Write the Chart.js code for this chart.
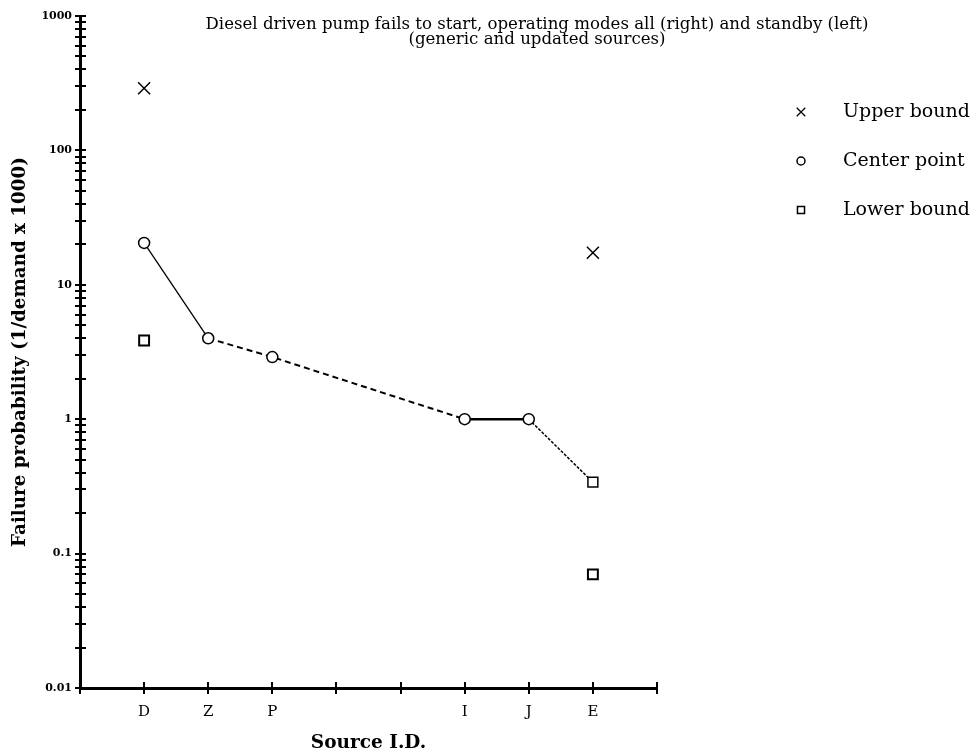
<!DOCTYPE html>
<html>
<head>
<meta charset="utf-8">
<script src="https://cdn.jsdelivr.net/npm/chart.js@4.4.0/dist/chart.umd.min.js"></script>
<style>
  body { margin: 0; background: #fff; }
  canvas { display: block; }
</style>
</head>
<body>
<canvas id="myChart" width="973" height="755"></canvas>
<script>
// x positions 0..9, only some of them carry a source label
const xTickLabels = ['', 'D', 'Z', 'P', '', '', 'I', 'J', 'E', ''];
const yTickLabels = ['0.01', '0.1', '1', '10', '100', '1000'];

const centerPos = [1, 2, 3, 6, 7, 8];
const centerValues = [20.5, 4, 2.9, 1, 1, 0.34];

const upperPos = [1, 8];
const upperValues = [290, 17.3];

const lowerPos = [1, 8];
const lowerValues = [3.85, 0.07];

const seriesNames = ['Upper bound', 'Center point', 'Lower bound'];

const titleLines = [
  'Diesel driven pump fails to start, operating modes all (right) and standby (left)',
  '(generic and updated sources)'
];

function toPoints(xs, ys) {
  return xs.map((x, i) => ({ x: x, y: ys[i] }));
}

Chart.defaults.font.family = 'DejaVu Serif';
Chart.defaults.color = '#000';

// segment styles of the center line: solid, dashed, dashed, solid, dotted
const segDash = [[], [6, 4], [6, 4], [], [3, 1.5]];
const segWidth = [1.3, 2, 2, 2.5, 1.5];

// tick marks that cross the axis lines
const crossTicks = {
  id: 'crossTicks',
  afterDraw(chart) {
    const ctx = chart.ctx;
    const xs = chart.scales.x, ys = chart.scales.y;
    const area = chart.chartArea;
    ctx.save();
    ctx.strokeStyle = '#000';
    ctx.lineWidth = 2;
    ys.ticks.forEach(t => {
      const py = Math.round(ys.getPixelForValue(t.value));
      ctx.beginPath();
      ctx.moveTo(area.left - 5, py);
      ctx.lineTo(area.left + 6, py);
      ctx.stroke();
    });
    xs.ticks.forEach(t => {
      const px = Math.round(xs.getPixelForValue(t.value));
      ctx.beginPath();
      ctx.moveTo(px, area.bottom - 6);
      ctx.lineTo(px, area.bottom + 6);
      ctx.stroke();
    });
    ctx.restore();
  }
};

// title and marker legend drawn at the places used in the original figure
const titleAndKey = {
  id: 'titleAndKey',
  afterDraw(chart) {
    const ctx = chart.ctx;
    ctx.save();
    ctx.fillStyle = '#000';
    ctx.textAlign = 'center';
    ctx.textBaseline = 'middle';
    ctx.font = '16.6px "DejaVu Serif"';
    ctx.fillText(titleLines[0], 537, 25);
    ctx.fillText(titleLines[1], 537, 40);

    const rows = [112, 161, 210];
    const keyStyles = [
      { pointStyle: 'crossRot', radius: 6, borderWidth: 1.3 },
      { pointStyle: 'circle', radius: 4, borderWidth: 1.5 },
      { pointStyle: 'rect', radius: 5, borderWidth: 1.5 }
    ];
    ctx.textAlign = 'left';
    ctx.font = '19px "DejaVu Serif"';
    seriesNames.forEach((name, i) => {
      ctx.strokeStyle = '#000';
      ctx.fillStyle = '#fff';
      ctx.lineWidth = keyStyles[i].borderWidth;
      Chart.helpers.drawPoint(ctx, keyStyles[i], 801, rows[i]);
      ctx.fillStyle = '#000';
      ctx.fillText(name, 843, rows[i]);
    });
    ctx.restore();
  }
};

const ctx = document.getElementById('myChart');

const myChart = new Chart(ctx, {
  type: 'scatter',
  data: {
    datasets: [{
      label: seriesNames[0],
      data: toPoints(upperPos, upperValues),
      showLine: false,
      pointStyle: 'crossRot',
      pointRadius: 8.5,
      borderColor: '#000',
      borderWidth: 1.5
    }, {
      label: seriesNames[1],
      data: toPoints(centerPos, centerValues),
      showLine: true,
      borderColor: '#000',
      backgroundColor: '#fff',
      pointBackgroundColor: '#fff',
      pointStyle: centerPos.map((p, i) => i === centerPos.length - 1 ? 'rect' : 'circle'),
      pointRadius: centerPos.map((p, i) => i === centerPos.length - 1 ? 7 : 5.5),
      pointBorderWidth: 1.5,
      borderWidth: 1.5,
      segment: {
        borderDash: c => segDash[c.p0DataIndex],
        borderWidth: c => segWidth[c.p0DataIndex]
      }
    }, {
      label: seriesNames[2],
      data: toPoints(lowerPos, lowerValues),
      showLine: false,
      pointStyle: 'rect',
      pointRadius: 7,
      borderColor: '#000',
      backgroundColor: '#fff',
      borderWidth: 2
    }]
  },
  options: {
    responsive: false,
    animation: false,
    events: [],
    layout: { padding: { top: 16, right: 316, left: 0, bottom: 0 } },
    plugins: {
      legend: { display: false },
      tooltip: { enabled: false }
    },
    scales: {
      x: {
        type: 'linear',
        min: 0,
        max: 9,
        grid: { display: false },
        border: { display: true, color: '#000', width: 3 },
        ticks: {
          stepSize: 1,
          autoSkip: false,
          maxRotation: 0,
          padding: 7,
          font: { size: 15 },
          callback: v => xTickLabels[v]
        },
        title: {
          display: true,
          text: 'Source I.D.',
          font: { size: 18.5, weight: 'bold' },
          padding: { top: 0, bottom: 1 }
        },
        afterFit: s => { s.height = 67; }
      },
      y: {
        type: 'logarithmic',
        min: 0.01,
        max: 1000,
        grid: { display: false },
        border: { display: true, color: '#000', width: 3 },
        afterBuildTicks: s => {
          const t = [];
          for (let e = -2; e < 3; e++) {
            for (let m = 1; m < 10; m++) t.push({ value: m * Math.pow(10, e) });
          }
          t.push({ value: 1000 });
          s.ticks = t;
        },
        ticks: {
          autoSkip: false,
          padding: 0,
          font: { size: 11, weight: 'bold' },
          callback: v => {
            const i = Math.round(Math.log10(v)) + 2;
            return Math.abs(Math.log10(v) - (i - 2)) < 1e-9 ? yTickLabels[i] : '';
          }
        },
        title: {
          display: true,
          text: 'Failure probability (1/demand x 1000)',
          font: { size: 18.3, weight: 'bold' },
          padding: { top: 9, bottom: 0 }
        },
        afterFit: s => { s.width = 80; }
      }
    }
  },
  plugins: [crossTicks, titleAndKey]
});
</script>
</body>
</html>
